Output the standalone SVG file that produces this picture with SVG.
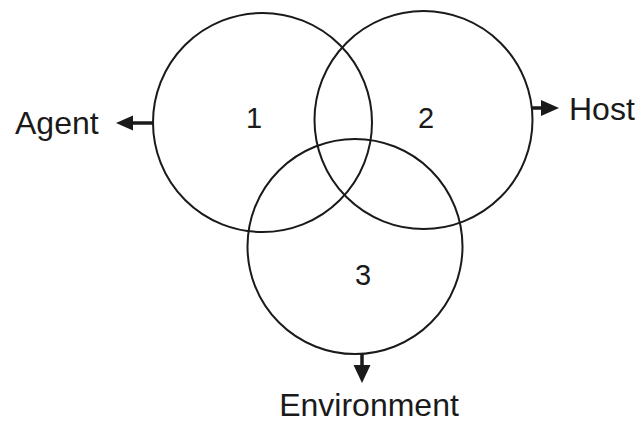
<svg xmlns="http://www.w3.org/2000/svg" width="642" height="423" viewBox="0 0 642 423">
<defs>
<style>
.c{fill:none;stroke:#1a1a1a;stroke-width:2}
.t{font-family:"Liberation Sans",Arial,sans-serif;fill:#1a1a1a}
.lbl{font-size:32px}
.num{font-size:29px;text-anchor:middle}
.sh{stroke:#1a1a1a;stroke-width:3.5}
.hd{fill:#1a1a1a}
</style>
</defs>
<rect width="642" height="423" fill="#ffffff"/>
<g id="circle1"><circle class="c" cx="262.5" cy="122.5" r="109.5"/><text class="t num" x="254" y="128">1</text></g>
<g id="circle2"><circle class="c" cx="423.5" cy="120" r="109"/><text class="t num" x="426" y="128">2</text></g>
<g id="circle3"><circle class="c" cx="355" cy="246.5" r="107.5"/><text class="t num" x="363" y="285">3</text></g>
<g id="agent"><text class="t lbl" x="15" y="134">Agent</text></g>
<g id="host"><text class="t lbl" x="569" y="120">Host</text></g>
<g id="environment"><text class="t lbl" x="369" y="416" text-anchor="middle">Environment</text></g>
<g id="connectors">
<line class="sh" x1="153" y1="123" x2="130" y2="123"/>
<polygon class="hd" points="116,123 133,115.5 133,130.5"/>
<line class="sh" x1="532" y1="108" x2="544" y2="108"/>
<polygon class="hd" points="559,108 541,100 541,116"/>
<line class="sh" x1="362" y1="354" x2="362" y2="368"/>
<polygon class="hd" points="362,383 353.5,365 370.5,365"/>
</g>
</svg>
